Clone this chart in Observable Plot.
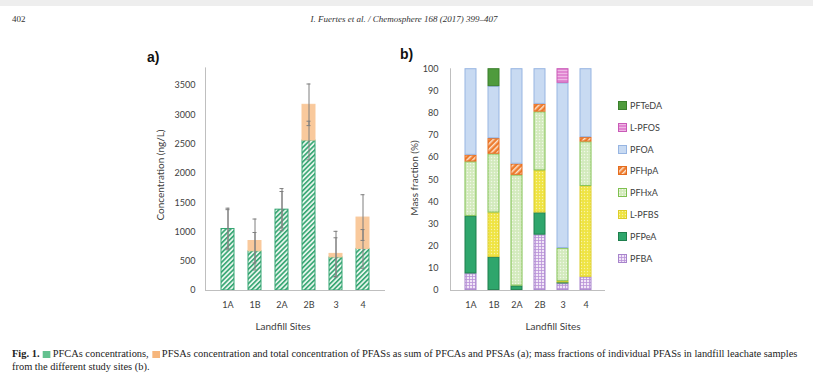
<!DOCTYPE html>
<html>
<head>
<meta charset="utf-8">
<script src="https://cdn.jsdelivr.net/npm/d3@7"></script>
<script src="https://cdn.jsdelivr.net/npm/@observablehq/plot@0.6"></script>
<style>
  html, body { margin: 0; padding: 0; background: #fff; }
  #page { position: relative; width: 813px; height: 381px; overflow: hidden; background: #fff; font-family: Lato, "Open Sans", sans-serif; color: #404040; }
  #topband { position: absolute; left: 0; top: 0; width: 813px; height: 6px; background: #eeeeee; }
  .abs { position: absolute; white-space: nowrap; }
  .hdr { font-family: "Liberation Serif", "DejaVu Serif", serif; font-size: 9px; color: #333; }
  .axtitle { font-size: 10px; color: #404040; }
  .panel { font-family: "Liberation Sans", Arial, sans-serif; font-weight: bold; font-size: 14px; color: #111; }
  .leg { font-size: 9px; color: #404040; display: flex; align-items: center; }
  .leg svg { margin-right: 3px; }
  .cap { font-family: "Liberation Serif", "DejaVu Serif", serif; font-size: 9.5px; color: #222; transform-origin: 0 0; }
  .sw { display: inline-block; width: 7px; height: 7px; vertical-align: -1px; margin: 0 2px 0 3px; }
</style>
</head>
<body>
<svg width="0" height="0" style="position:absolute">
  <defs>
    <pattern id="hatchA" patternUnits="userSpaceOnUse" width="3.4" height="3.4" patternTransform="rotate(45)">
      <rect width="3.4" height="3.4" fill="#e6f5ec"/>
      <rect width="1.6" height="3.4" fill="#35a572"/>
    </pattern>
    <pattern id="patPFBA" patternUnits="userSpaceOnUse" width="3" height="3">
      <rect width="3" height="3" fill="#f1e6f7"/>
      <rect width="3" height="0.8" fill="#b993d8"/>
      <rect width="0.8" height="3" fill="#b993d8"/>
    </pattern>
    <pattern id="patPFBS" patternUnits="userSpaceOnUse" width="3" height="3">
      <rect width="3" height="3" fill="#efe443"/>
      <circle cx="1.5" cy="1.5" r="0.7" fill="#f8f3a8"/>
    </pattern>
    <pattern id="patPFHxA" patternUnits="userSpaceOnUse" width="3" height="3">
      <rect width="3" height="3" fill="#d3eabd"/>
      <circle cx="1.5" cy="1.5" r="0.75" fill="#f1f8e8"/>
    </pattern>
    <pattern id="patPFHpA" patternUnits="userSpaceOnUse" width="4" height="4" patternTransform="rotate(45)">
      <rect width="4" height="4" fill="#ee7b2e"/>
      <rect width="1.5" height="4" fill="#fbe2cc"/>
    </pattern>
    <pattern id="patPFOS" patternUnits="userSpaceOnUse" width="3" height="3">
      <rect width="3" height="3" fill="#e187d1"/>
      <rect y="1" width="3" height="0.8" fill="#f3c3ea"/>
    </pattern>
  </defs>
</svg>

<div id="page">
  <div id="topband"></div>
  <div class="abs hdr" style="left:12px; top:14px;">402</div>
  <div class="abs hdr" style="left:404px; top:14px; transform:translateX(-50%); font-style:italic;">I. Fuertes et al. / Chemosphere 168 (2017) 399–407</div>

  <div class="abs panel" style="left:147px; top:49px;">a)</div>
  <div class="abs panel" style="left:400px; top:46px;">b)</div>

  <div class="abs axtitle" style="left:160px; top:175px; transform:translate(-50%,-50%) rotate(-90deg);">Concentration (ng/L)</div>
  <div class="abs axtitle" style="left:414px; top:178px; transform:translate(-50%,-50%) rotate(-90deg);">Mass fraction (%)</div>

  <div id="chartA" class="abs" style="left:130px; top:45px;"></div>
  <div id="chartB" class="abs" style="left:400px; top:45px;"></div>

  <div class="abs axtitle" style="left:283px; top:326px; transform:translate(-50%,-50%);">Landfill Sites</div>
  <div class="abs axtitle" style="left:553px; top:326px; transform:translate(-50%,-50%);">Landfill Sites</div>

  <div id="legend" class="abs" style="left:618px; top:100px;"></div>

  <div id="cap1" class="abs cap" style="left:12px; top:349px;"><b>Fig. 1.</b><span class="sw" style="background:#63c18f"></span>PFCAs concentrations,<span class="sw" style="background:#f6b67c"></span>PFSAs concentration and total concentration of PFASs as sum of PFCAs and PFSAs (a); mass fractions of individual PFASs in landfill leachate samples</div>
  <div id="cap2" class="abs cap" style="left:12px; top:362px;">from the different study sites (b).</div>
</div>

<script>
// ---------- Panel a data ----------
const sitesA = ["1A", "1B", "2A", "2B", "3", "4"];
const pfcas = [1050, 670, 1380, 2560, 565, 710];
const pfsas = [0, 175, 0, 610, 60, 535];
const pfcaErr = [330, 320, 310, 330, 335, 330];
const totalErr = [355, 375, 360, 355, 385, 390];
const yTicksA = [0, 500, 1000, 1500, 2000, 2500, 3000, 3500];

// ---------- Panel b data (mass fraction, %) ----------
const sitesB = ["1A", "1B", "2A", "2B", "3", "4"];
const seriesB = ["PFBA", "PFPeA", "L-PFBS", "PFHxA", "PFHpA", "PFOA", "L-PFOS", "PFTeDA"];
const PFBA   = [7.5, 0, 0, 25, 3, 6];
const PFPeA  = [26, 15, 2, 10, 0.5, 0];
const LPFBS  = [0, 20, 0, 19, 0.5, 41];
const PFHxA  = [24.5, 26.5, 50, 26.5, 15, 20];
const PFHpA  = [3, 7, 5, 3.5, 0, 2];
const PFOA   = [39, 23.5, 43, 16, 74.5, 31];
const LPFOS  = [0, 0, 0, 0, 6.5, 0];
const PFTeDA = [0, 8, 0, 0, 0, 0];
const yTicksB = [0, 10, 20, 30, 40, 50, 60, 70, 80, 90, 100];
const legendOrder = ["PFTeDA", "L-PFOS", "PFOA", "PFHpA", "PFHxA", "L-PFBS", "PFPeA", "PFBA"];

// ---------- styles ----------
const styleA = {
  PFCAs: {fill: "url(#hatchA)", stroke: "#35a572"},
  PFSAs: {fill: "#f9c99c", stroke: "#f9c99c"}
};
const styleB = {
  "PFBA":   {fill: "url(#patPFBA)", stroke: "#a784cc"},
  "PFPeA":  {fill: "#2fa66c", stroke: "#1e7e4d"},
  "L-PFBS": {fill: "url(#patPFBS)", stroke: "#dccd2a"},
  "PFHxA":  {fill: "url(#patPFHxA)", stroke: "#7fc04f"},
  "PFHpA":  {fill: "url(#patPFHpA)", stroke: "#e46c1e"},
  "PFOA":   {fill: "#c8daf2", stroke: "#97b5e2"},
  "L-PFOS": {fill: "url(#patPFOS)", stroke: "#c95ab7"},
  "PFTeDA": {fill: "#4f9b3d", stroke: "#3a7f2c"}
};

const axisStyle = {fontFamily: "Lato, 'Open Sans', sans-serif", fontSize: "9px", color: "#404040", background: "transparent", overflow: "visible"};

// ---------- Panel a ----------
const dataA = [];
sitesA.forEach((s, i) => {
  if (pfcas[i] > 0) dataA.push({site: s, group: "PFCAs", value: pfcas[i]});
  if (pfsas[i] > 0) dataA.push({site: s, group: "PFSAs", value: pfsas[i]});
});
const errA = [];
sitesA.forEach((s, i) => {
  errA.push({site: s, lo: pfcas[i] - pfcaErr[i], hi: pfcas[i] + pfcaErr[i]});
  const t = pfcas[i] + pfsas[i];
  errA.push({site: s, lo: t - totalErr[i], hi: t + totalErr[i]});
});

const chartA = Plot.plot({
  width: 265, height: 295,
  marginLeft: 75, marginRight: 10, marginTop: 22.4, marginBottom: 50,
  style: axisStyle,
  x: {domain: sitesA, padding: 0.53, label: null, tickSize: 0, tickPadding: 11},
  y: {domain: [0, 3800], ticks: yTicksA, tickFormat: d => String(d), tickSize: 0, tickPadding: 10, label: null},
  color: {type: "identity"},
  marks: [
    Plot.frame({anchor: "left", stroke: "#bfbfbf"}),
    Plot.barY(dataA, Plot.stackY({
      x: "site", y: "value", z: "group",
      fill: d => styleA[d.group].fill,
      stroke: d => styleA[d.group].stroke,
      strokeWidth: 1
    })),
    Plot.ruleX(errA, {x: "site", y1: "lo", y2: "hi", stroke: "#7f7f7f", strokeWidth: 1}),
    Plot.tickY(errA, {x: "site", y: "hi", stroke: "#7f7f7f", insetLeft: 4.5, insetRight: 4.5}),
    Plot.tickY(errA, {x: "site", y: "lo", stroke: "#7f7f7f", insetLeft: 4.5, insetRight: 4.5}),
    Plot.ruleY([0], {stroke: "#bfbfbf"})
  ]
});
document.getElementById("chartA").appendChild(chartA);

// ---------- Panel b ----------
const seriesValues = {
  "PFBA": PFBA, "PFPeA": PFPeA, "L-PFBS": LPFBS, "PFHxA": PFHxA,
  "PFHpA": PFHpA, "PFOA": PFOA, "L-PFOS": LPFOS, "PFTeDA": PFTeDA
};
const dataB = [];
seriesB.forEach(name => {
  seriesValues[name].forEach((v, i) => {
    if (v > 0) dataB.push({site: sitesB[i], series: name, value: v});
  });
});

const chartB = Plot.plot({
  width: 215, height: 295,
  marginLeft: 50, marginRight: 10, marginTop: 23.3, marginBottom: 50,
  style: axisStyle,
  x: {domain: sitesB, padding: 0.54, label: null, tickSize: 0, tickPadding: 11},
  y: {domain: [0, 100], ticks: yTicksB, tickSize: 0, tickPadding: 12, label: null},
  color: {type: "identity"},
  marks: [
    Plot.frame({anchor: "left", stroke: "#bfbfbf"}),
    Plot.barY(dataB, Plot.stackY({
      x: "site", y: "value", z: "series", order: seriesB,
      fill: d => styleB[d.series].fill,
      stroke: d => styleB[d.series].stroke,
      strokeWidth: 1, insetTop: 0.4, insetBottom: 0.4
    })),
    Plot.ruleY([0], {stroke: "#bfbfbf"})
  ]
});
document.getElementById("chartB").appendChild(chartB);

// ---------- Legend ----------
const legend = document.getElementById("legend");
legendOrder.forEach((name, k) => {
  const row = document.createElement("div");
  row.className = "leg";
  row.style.position = "absolute";
  row.style.left = "0px";
  row.style.top = (k * 21.8) + "px";
  const st = styleB[name];
  row.innerHTML = `<svg width="9" height="9"><rect x="0.5" y="0.5" width="8" height="8" fill="${st.fill}" stroke="${st.stroke}"/></svg><span>${name}</span>`;
  legend.appendChild(row);
});

// fit caption first line to the page text width
const cap1 = document.getElementById("cap1");
const cap2 = document.getElementById("cap2");
const k = 785 / cap1.offsetWidth;
cap1.style.transform = `scaleX(${k})`;
cap2.style.transform = `scaleX(${k})`;
</script>
</body>
</html>
